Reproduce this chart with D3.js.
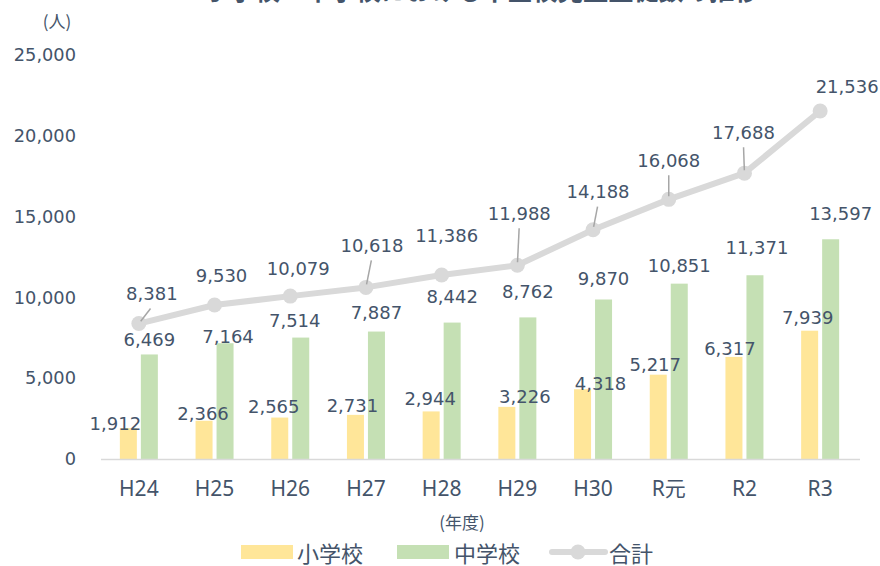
<!DOCTYPE html>
<html><head><meta charset="utf-8">
<script src="https://cdn.jsdelivr.net/npm/d3@7/dist/d3.min.js"></script>
<style>body{margin:0;background:#fff}svg{display:block}</style>
</head><body>
<svg id="c" width="880" height="566"></svg>
<script>
const categories = ["H24","H25","H26","H27","H28","H29","H30","R元","R2","R3"];
const elementary = [1912,2366,2565,2731,2944,3226,4318,5217,6317,7939];
const juniorHigh = [6469,7164,7514,7887,8442,8762,9870,10851,11371,13597];
const total = [8381,9530,10079,10618,11386,11988,14188,16068,17688,21536];
const yTicks = [0,5000,10000,15000,20000,25000];
const seriesNames = ["小学校","中学校","合計"];
const titleText = "小学校・中学校における不登校児童生徒数の推移";

// label layout (offsets from mark, px)
const elemLabelOff = [[-13,-5],[-1,-7],[-6,-11],[-3,-9],[-1,-13],[18,-10],[18,-6],[-3,-10],[-4,-8],[-2,-13]];
const juniorLabelOff = [[0,-15],[3,-7],[-6,-17],[0,-19],[0,-26],[0,-26],[0,-21],[0,-18],[2,-28],[10,-26]];
const totalLabelOff = [[13,-30,1],[7,-29,0],[8,-28,0],[6,-42,1],[5,-40,0],[2,-52,1],[5,-38,1],[0,-39,1],[-1,-41,1],[27,-24,0]];

const C = {yellow:"#FFE699", green:"#C5E0B4", line:"#D9D9D9", text:"#44546A", axis:"#D9D9D9", leader:"#A6A6A6"};
const svg = d3.select("#c");
const x = d3.scaleBand().domain(categories).range([101,858]).padding(0);
const y = d3.scaleLinear().domain([0,25000]).range([459,55]);
const cx = c => x(c) + x.bandwidth()/2;
const numFmt = d3.format(",");
const numFont = "'DejaVu Sans', Verdana, sans-serif";
const jpFont = "'Noto Sans CJK JP', 'Noto Sans', sans-serif";

// title (clipped at top as in reference)
svg.append("text").attr("x",482).attr("y",0).attr("text-anchor","middle")
  .attr("font-family",jpFont).attr("font-size",26).attr("font-weight","bold")
  .attr("fill",C.text).attr("textLength",555).attr("lengthAdjust","spacingAndGlyphs").text(titleText);

// y axis labels
svg.append("text").attr("x",57).attr("y",20).attr("text-anchor","middle").attr("dominant-baseline","central")
  .attr("font-family",jpFont).attr("font-size",17).attr("fill",C.text).text("(人)");
const yAxis = d3.axisLeft(y).tickValues(yTicks).tickFormat(numFmt).tickSize(0).tickPadding(0);
const yg = svg.append("g").attr("transform","translate(76,0)").call(yAxis);
yg.select(".domain").remove();
yg.selectAll("text").attr("font-family",numFont).attr("font-size",17.8).attr("fill",C.text);

// bars
const bw = 17;
svg.append("g").selectAll("rect").data(elementary).join("rect")
  .attr("x",(d,i)=>cx(categories[i]) - 2 - bw).attr("width",bw)
  .attr("y",d=>y(d)).attr("height",d=>y(0)-y(d)).attr("fill",C.yellow);
svg.append("g").selectAll("rect").data(juniorHigh).join("rect")
  .attr("x",(d,i)=>cx(categories[i]) + 2).attr("width",bw)
  .attr("y",d=>y(d)).attr("height",d=>y(0)-y(d)).attr("fill",C.green);

// x axis
const xAxis = d3.axisBottom(x).tickSize(0).tickPadding(0);
const xg = svg.append("g").attr("transform",`translate(0,${y(0)})`).call(xAxis);
xg.select(".domain").attr("stroke",C.axis).attr("stroke-width",1.5).attr("d","M101,0.5H860");
xg.selectAll("text").attr("y",30).attr("dy","0.35em").attr("font-family","'Noto Sans', 'Noto Sans CJK JP', sans-serif")
  .attr("font-size",21).attr("fill",C.text);
svg.append("text").attr("x",462).attr("y",521).attr("text-anchor","middle").attr("dominant-baseline","central")
  .attr("font-family",jpFont).attr("font-size",17).attr("fill",C.text).text("(年度)");

// line
const line = d3.line().x((d,i)=>cx(categories[i])).y(d=>y(d));
svg.append("path").datum(total).attr("d",line).attr("fill","none").attr("stroke",C.line).attr("stroke-width",6).attr("stroke-linejoin","round");
svg.append("g").selectAll("circle").data(total).join("circle")
  .attr("cx",(d,i)=>cx(categories[i])).attr("cy",d=>y(d)).attr("r",7.5).attr("fill",C.line);

// leader lines
total.forEach((d,i)=>{
  const o = totalLabelOff[i]; if(!o[2]) return;
  const px = cx(categories[i]), py = y(d);
  const ex = px + o[0]*0.9, ey = py + o[1] + 15;
  const len = Math.hypot(ex-px, ey-py), ux=(ex-px)/len, uy=(ey-py)/len;
  svg.append("line").attr("x1",px+ux*3).attr("y1",py+uy*3).attr("x2",ex).attr("y2",ey)
    .attr("stroke",C.leader).attr("stroke-width",1.5);
});

// data labels
function labels(data, off, fx) {
  svg.append("g").selectAll("text").data(data).join("text")
    .attr("x",(d,i)=>fx(i) + off[i][0]).attr("y",(d,i)=>y(d) + off[i][1])
    .attr("text-anchor","middle").attr("dominant-baseline","central")
    .attr("font-family",numFont).attr("font-size",18).attr("fill",C.text).text(d=>numFmt(d));
}
labels(elementary, elemLabelOff, i=>cx(categories[i]) - 2 - bw/2);
labels(juniorHigh, juniorLabelOff, i=>cx(categories[i]) + 2 + bw/2);
labels(total, totalLabelOff, i=>cx(categories[i]));

// legend
const lg = svg.append("g");
const ly = 552;
lg.append("rect").attr("x",241).attr("y",ly-7).attr("width",52).attr("height",14).attr("fill",C.yellow);
lg.append("text").attr("x",297).attr("y",ly).attr("dominant-baseline","central").attr("font-family",jpFont).attr("font-size",22).attr("fill",C.text).text(seriesNames[0]);
lg.append("rect").attr("x",397).attr("y",ly-7).attr("width",52).attr("height",14).attr("fill",C.green);
lg.append("text").attr("x",454).attr("y",ly).attr("dominant-baseline","central").attr("font-family",jpFont).attr("font-size",22).attr("fill",C.text).text(seriesNames[1]);
lg.append("line").attr("x1",552).attr("x2",605).attr("y1",ly).attr("y2",ly).attr("stroke",C.line).attr("stroke-width",6).attr("stroke-linecap","round");
lg.append("circle").attr("cx",578).attr("cy",ly).attr("r",7.5).attr("fill",C.line);
lg.append("text").attr("x",609).attr("y",ly).attr("dominant-baseline","central").attr("font-family",jpFont).attr("font-size",22).attr("fill",C.text).text(seriesNames[2]);
</script>
</body></html>
